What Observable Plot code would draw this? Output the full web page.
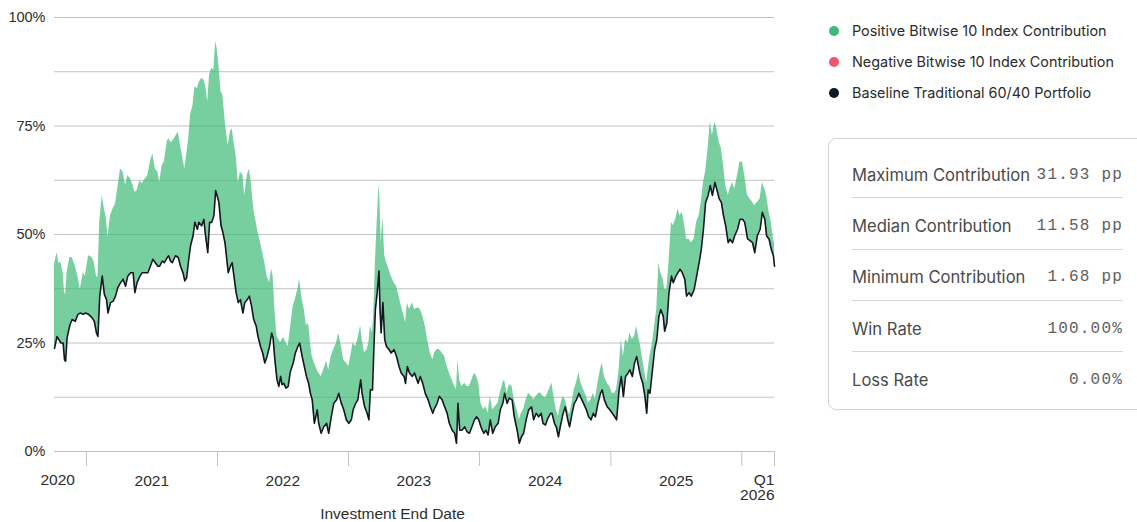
<!DOCTYPE html>
<html>
<head>
<meta charset="utf-8">
<script src="https://cdn.jsdelivr.net/npm/d3@7"></script>
<script src="https://cdn.jsdelivr.net/npm/@observablehq/plot@0.6"></script>
<style>
  html, body { margin: 0; padding: 0; background: #fff; overflow: hidden; }
  body { width: 1137px; height: 522px; position: relative; font-family: Inter, "Noto Sans", sans-serif; }
  #chart { position: absolute; left: 0; top: 0; width: 790px; height: 522px; }
  #side { position: absolute; left: 828px; top: 0; width: 330px; height: 522px; }
  .legend { position: absolute; top: 15px; left: 0; }
  .legend .item { height: 31px; display: flex; align-items: center; font-size: 14.4px; color: #2b2b2b; white-space: nowrap; }
  .legend .dot { width: 10px; height: 10px; border-radius: 50%; margin-left: 1px; margin-right: 13px; flex: none; }
  .stats { position: absolute; top: 138px; left: 0; width: 318px; height: 272px; box-sizing: border-box;
           border: 1px solid #d2d2d2; border-radius: 8px; padding: 8px 22px 7px 23px; }
  .stats .row { height: 51.3px; box-sizing: border-box; padding-top: 5px; display: flex; align-items: center;
                justify-content: space-between; border-bottom: 1px solid #d6d6d6; white-space: nowrap; }
  .stats .row:last-child { border-bottom: none; }
  .stats .name { font-size: 16.6px; color: #4a4a4a; }
  .stats .value { font-family: "Liberation Mono", "DejaVu Sans Mono", monospace; font-size: 16px; letter-spacing: 1.2px; color: #5e5e5e; }
</style>
</head>
<body>
<div id="chart"></div>
<div id="side">
  <div class="legend" id="legend"></div>
  <div class="stats" id="stats"></div>
</div>
<script>
// Investment end dates and the two portfolio values (%) at each date
const dates = [
  "2020-10-04","2020-10-11","2020-10-16","2020-10-22","2020-10-28","2020-11-01","2020-11-04","2020-11-08","2020-11-16","2020-11-22",
  "2020-12-01","2020-12-08","2020-12-15","2020-12-23","2020-12-29","2021-01-07","2021-01-17","2021-01-23","2021-01-29","2021-02-02",
  "2021-02-07","2021-02-14","2021-02-20","2021-02-26","2021-03-02","2021-03-09","2021-03-16","2021-03-23","2021-03-29","2021-04-06",
  "2021-04-13","2021-04-20","2021-04-26","2021-05-04","2021-05-11","2021-05-16","2021-05-22","2021-05-30","2021-06-05","2021-06-14",
  "2021-06-21","2021-06-28","2021-07-05","2021-07-12","2021-07-19","2021-07-24","2021-07-31","2021-08-06","2021-08-14","2021-08-18",
  "2021-08-23","2021-08-28","2021-09-06","2021-09-14","2021-09-20","2021-09-27","2021-10-02","2021-10-07","2021-10-13","2021-10-18",
  "2021-10-25","2021-10-30","2021-11-06","2021-11-10","2021-11-18","2021-11-24","2021-11-29","2021-12-05","2021-12-10","2021-12-16",
  "2021-12-22","2021-12-27","2021-12-31","2022-01-05","2022-01-11","2022-01-16","2022-01-22","2022-01-26","2022-01-31","2022-02-06",
  "2022-02-11","2022-02-16","2022-02-22","2022-02-28","2022-03-06","2022-03-13","2022-03-18","2022-03-25","2022-03-31","2022-04-06",
  "2022-04-12","2022-04-19","2022-04-24","2022-05-01","2022-05-07","2022-05-13","2022-05-19","2022-05-26","2022-06-01","2022-06-05",
  "2022-06-10","2022-06-16","2022-06-21","2022-06-26","2022-06-30","2022-07-05","2022-07-11","2022-07-17","2022-07-23","2022-07-31",
  "2022-08-06","2022-08-13","2022-08-18","2022-08-25","2022-08-31","2022-09-06","2022-09-12","2022-09-17","2022-09-22","2022-09-28",
  "2022-10-06","2022-10-10","2022-10-17","2022-10-24","2022-11-01","2022-11-07","2022-11-14","2022-11-21","2022-11-29","2022-12-05",
  "2022-12-12","2022-12-19","2022-12-26","2023-01-02","2023-01-09","2023-01-14","2023-01-21","2023-01-27","2023-02-04","2023-02-08",
  "2023-02-15","2023-02-22","2023-02-27","2023-03-03","2023-03-09","2023-03-13","2023-03-17","2023-03-22","2023-03-27","2023-03-30",
  "2023-04-02","2023-04-07","2023-04-12","2023-04-17","2023-04-24","2023-04-30","2023-05-08","2023-05-15","2023-05-22","2023-05-28",
  "2023-06-05","2023-06-09","2023-06-14","2023-06-20","2023-06-28","2023-07-04","2023-07-14","2023-07-20","2023-07-27","2023-08-03",
  "2023-08-11","2023-08-17","2023-08-24","2023-08-29","2023-09-05","2023-09-11","2023-09-19","2023-09-26","2023-10-03","2023-10-09",
  "2023-10-17","2023-10-24","2023-10-29","2023-11-02","2023-11-07","2023-11-13","2023-11-21","2023-11-27","2023-12-04","2023-12-11",
  "2023-12-18","2023-12-24","2023-12-30","2024-01-05","2024-01-13","2024-01-19","2024-01-25","2024-01-31","2024-02-07","2024-02-14",
  "2024-02-22","2024-02-28","2024-03-06","2024-03-11","2024-03-18","2024-03-24","2024-04-01","2024-04-07","2024-04-15","2024-04-21",
  "2024-04-27","2024-05-03","2024-05-10","2024-05-17","2024-05-25","2024-05-31","2024-06-07","2024-06-14","2024-06-21","2024-06-26",
  "2024-07-03","2024-07-09","2024-07-17","2024-07-21","2024-07-28","2024-08-02","2024-08-08","2024-08-13","2024-08-21","2024-08-27",
  "2024-09-03","2024-09-08","2024-09-15","2024-09-21","2024-09-27","2024-10-04","2024-10-10","2024-10-17","2024-10-25","2024-10-31",
  "2024-11-07","2024-11-13","2024-11-19","2024-11-26","2024-12-03","2024-12-08","2024-12-14","2024-12-22","2024-12-29","2025-01-05",
  "2025-01-12","2025-01-17","2025-01-24","2025-01-30","2025-02-05","2025-02-11","2025-02-18","2025-02-23","2025-03-02","2025-03-08",
  "2025-03-14","2025-03-21","2025-03-25","2025-03-31","2025-04-06","2025-04-11","2025-04-15","2025-04-20","2025-04-27","2025-05-03",
  "2025-05-09","2025-05-15","2025-05-20","2025-05-27","2025-05-31","2025-06-06","2025-06-12","2025-06-19","2025-06-24","2025-07-01",
  "2025-07-07","2025-07-13","2025-07-19","2025-07-26","2025-07-31","2025-08-07","2025-08-13","2025-08-21","2025-08-28","2025-09-04",
  "2025-09-10","2025-09-16","2025-09-22","2025-09-29","2025-10-05","2025-10-11","2025-10-18","2025-10-23","2025-10-30","2025-11-05",
  "2025-11-11","2025-11-17","2025-11-24","2025-11-29","2025-12-06","2025-12-12","2025-12-20","2025-12-27","2026-01-03","2026-01-09",
  "2026-01-17","2026-01-24","2026-01-31","2026-02-06","2026-02-13","2026-02-21","2026-02-27","2026-03-06","2026-03-11","2026-03-18",
  "2026-03-24","2026-03-30","2026-04-02"
];

// Baseline traditional 60/40 portfolio (%)
const baseline = [
  23.8,26.5,25.8,25.0,25.0,21.1,20.8,26.2,29.2,30.4,
  30.0,31.6,31.9,31.6,31.9,31.6,30.8,30.0,27.3,26.5,
  35.8,40.4,36.2,35.0,31.9,34.3,34.6,35.8,37.7,38.9,
  39.7,38.1,40.4,41.2,41.2,36.6,38.9,40.4,41.2,41.2,
  41.2,42.7,44.3,43.5,42.7,42.7,43.9,43.5,44.7,45.1,
  43.9,43.5,45.1,44.7,42.7,41.2,39.3,40.0,44.3,47.4,
  49.7,52.8,51.2,52.8,52.0,53.5,49.7,45.8,52.8,52.8,
  54.3,60.1,59.0,57.4,52.0,50.5,48.1,45.1,41.2,42.7,
  43.5,40.4,36.6,34.3,35.0,31.9,34.3,35.0,35.8,33.5,
  30.4,28.9,26.5,24.2,22.7,20.4,21.9,24.2,27.3,26.2,
  21.1,16.5,15.0,17.3,15.4,15.7,14.6,15.0,18.4,20.4,
  22.7,24.2,25.0,21.9,19.6,17.3,15.7,13.4,11.9,6.5,
  9.6,6.5,4.2,5.7,6.5,4.2,8.0,11.1,11.9,13.4,
  11.1,9.6,7.3,6.5,7.3,9.6,11.1,11.9,16.5,13.4,
  10.3,8.8,7.3,14.2,14.2,24.2,32.7,36.6,41.6,32.7,
  27.3,34.3,25.8,24.2,23.5,22.7,23.5,21.9,19.6,18.1,
  17.3,15.7,19.6,18.1,17.3,18.1,15.7,17.3,15.7,13.4,
  11.9,10.3,8.8,10.0,11.1,12.7,11.9,10.3,8.8,6.5,
  4.9,4.2,1.9,11.1,4.9,4.9,5.7,4.6,4.2,5.7,
  7.3,8.0,7.3,5.7,4.2,4.9,3.8,7.3,4.2,5.7,
  6.5,9.6,11.1,13.4,11.1,12.3,11.9,8.0,4.9,1.9,
  3.4,4.2,7.3,9.6,10.3,7.3,8.8,8.0,8.8,6.5,
  6.1,7.6,8.8,8.8,6.5,5.7,3.4,5.7,8.8,10.3,
  7.3,5.7,8.8,11.1,11.9,13.4,12.3,11.1,9.6,8.0,
  7.3,8.8,8.0,11.1,13.4,14.2,11.9,10.3,9.6,8.8,
  8.0,7.3,14.2,17.3,12.7,17.3,18.1,18.8,17.3,20.4,
  21.9,18.8,17.3,15.7,12.7,8.8,14.2,13.4,18.8,23.5,
  25.8,31.2,32.7,31.2,27.7,29.6,36.6,40.4,38.9,40.4,
  41.2,42.0,41.2,39.7,35.8,36.6,35.8,37.3,40.4,43.5,
  46.6,51.2,57.4,59.0,61.3,59.0,62.0,60.5,58.2,57.4,
  54.3,52.0,48.1,48.9,48.1,49.7,51.2,53.5,53.5,52.8,
  49.0,48.6,48.1,45.8,49.7,51.2,55.1,53.5,49.7,48.9,
  46.6,45.1,42.7
];

// Same portfolio with the Bitwise 10 Index sleeve added (%)
const withBitwise = [
  43.1,45.8,43.5,43.5,41.2,36.6,36.2,41.2,44.7,44.7,
  42.7,40.4,37.3,41.2,40.4,45.1,44.7,43.5,40.4,40.0,
  52.8,59.0,55.9,53.5,49.3,54.3,55.9,57.0,60.5,65.1,
  64.4,61.3,63.6,62.8,61.3,59.7,60.1,62.4,61.7,62.8,
  63.6,66.7,68.6,65.1,64.4,62.0,65.9,66.7,71.3,72.1,
  71.3,71.3,72.5,73.6,70.5,67.4,65.1,68.2,72.1,77.5,
  79.8,84.0,83.6,84.8,86.0,85.6,84.4,80.6,86.7,88.3,
  87.9,94.4,92.9,89.0,82.9,82.1,76.7,73.6,70.5,73.6,
  74.4,71.3,68.2,62.0,64.4,63.6,59.0,63.6,65.1,61.3,
  55.9,52.8,50.5,48.1,45.8,43.5,40.4,38.9,42.0,40.4,
  32.7,26.5,25.8,25.0,25.8,26.2,25.0,24.2,28.1,33.5,
  35.0,37.3,39.7,35.0,32.7,28.9,29.6,25.0,21.9,20.4,
  18.8,18.1,17.3,18.8,20.8,18.8,21.9,23.5,25.0,27.3,
  24.2,21.1,20.4,19.6,22.7,25.0,24.2,25.8,28.9,25.8,
  22.7,23.5,25.0,28.9,27.3,32.7,43.5,52.8,61.7,57.4,
  48.1,53.9,45.1,43.5,42.0,40.4,38.9,38.1,35.8,33.5,
  31.2,29.6,34.3,32.7,34.3,32.7,33.1,32.7,31.2,28.9,
  25.0,22.7,21.1,22.7,23.5,23.5,22.7,21.9,19.6,18.1,
  16.5,15.0,14.2,21.1,16.5,15.0,15.7,15.0,15.0,16.5,
  18.1,17.3,15.7,11.1,9.6,10.3,8.8,12.7,9.6,10.3,
  11.1,13.4,15.7,16.5,13.4,15.4,15.0,11.9,9.6,7.3,
  8.8,9.6,11.9,13.4,12.7,11.9,12.7,13.4,13.4,12.7,
  12.3,13.4,15.0,15.7,11.9,9.6,8.0,10.3,12.7,12.0,
  9.6,8.4,11.1,14.2,15.7,18.1,15.7,14.2,12.7,11.1,
  11.9,13.4,11.9,15.7,18.8,20.4,17.3,15.7,15.0,13.4,
  13.4,14.2,18.8,25.8,21.9,25.8,25.0,27.3,25.8,26.5,
  28.9,25.8,24.2,21.1,18.1,15.7,18.8,21.9,25.0,28.9,
  32.7,43.5,41.2,39.7,37.3,37.3,43.5,52.8,52.0,53.5,
  55.9,54.3,55.1,52.0,48.9,48.9,48.1,48.9,52.8,54.3,
  57.4,62.0,64.4,69.8,75.9,72.8,75.9,74.4,71.3,69.8,
  65.9,61.3,59.0,60.5,62.0,60.5,63.6,66.7,66.7,63.6,
  59.0,58.2,57.4,56.6,57.4,58.2,62.0,60.5,59.0,55.1,
  52.8,48.9,48.1
];

// Axis ticks
const yLabelTicks = [0, 25, 50, 75, 100];
const yGridTicks = [0, 12.5, 25, 37.5, 50, 62.5, 75, 87.5, 100];
const yearStarts = ["2021-01-01", "2022-01-01", "2023-01-01", "2024-01-01", "2025-01-01", "2026-01-01"];
const yearLabels = [
  { date: "2021-07-02", label: "2021" },
  { date: "2022-07-02", label: "2022" },
  { date: "2023-07-02", label: "2023" },
  { date: "2024-07-02", label: "2024" },
  { date: "2025-07-02", label: "2025" }
];
const firstLabel = "2020";
const lastLabel = "Q1\n2026";
const xTitle = "Investment End Date";

// Legend and summary panel
const legendItems = [
  { label: "Positive Bitwise 10 Index Contribution", color: "#3dbb76" },
  { label: "Negative Bitwise 10 Index Contribution", color: "#f0566e" },
  { label: "Baseline Traditional 60/40 Portfolio", color: "#111820" }
];
const statNames = ["Maximum Contribution", "Median Contribution", "Minimum Contribution", "Win Rate", "Loss Rate"];
const statValues = ["31.93 pp", "11.58 pp", "1.68 pp", "100.00%", "0.00%"];

const parse = d3.utcParse("%Y-%m-%d");
const rows = dates.map((d, i) => ({ date: parse(d), baseline: baseline[i], blended: withBitwise[i] }));
const start = rows[0].date;
const end = rows[rows.length - 1].date;
const axisFont = "'Liberation Sans', Arial, sans-serif";

const chart = Plot.plot({
  width: 790,
  height: 522,
  marginLeft: 54,
  marginRight: 16,
  marginTop: 17,
  marginBottom: 71,
  style: { fontFamily: axisFont, fontSize: "15.5px", color: "#2e2e2e", background: "#fff" },
  x: { type: "utc", domain: [start, end] },
  y: { domain: [0, 100] },
  marks: [
    Plot.gridY(yGridTicks, { stroke: "#c2c2c2", strokeOpacity: 1 }),
    Plot.axisY(yLabelTicks, { tickSize: 0, tickPadding: 9, fontSize: 14.5, tickFormat: (d) => d + "%", label: null }),
    Plot.axisX(yearStarts.map(parse).concat([end]), { tickSize: 15, tickFormat: () => "", stroke: "#c2c2c2", label: null }),
    Plot.axisX(yearLabels.map((d) => parse(d.date)), {
      tickSize: 0, tickPadding: 23,
      tickFormat: (d) => yearLabels.find((l) => +parse(l.date) === +d).label,
      label: null
    }),
    Plot.text([start], { x: (d) => d, text: () => firstLabel, frameAnchor: "bottom", lineAnchor: "middle", textAnchor: "start", dx: -14, dy: 29 }),
    Plot.text([end], { x: (d) => d, text: () => lastLabel, frameAnchor: "bottom", lineAnchor: "middle", textAnchor: "end", lineHeight: 1, dy: 36 }),
    Plot.text([xTitle], { frameAnchor: "bottom", lineAnchor: "middle", dy: 63, dx: -22 }),
    Plot.areaY(rows, { x: "date", y1: "baseline", y2: "blended", fill: "#3dbb76", fillOpacity: 0.7, curve: "linear" }),
    Plot.lineY(rows, { x: "date", y: "baseline", stroke: "#111820", strokeWidth: 1.6 })
  ]
});
document.getElementById("chart").append(chart);

// Legend
const legend = d3.select("#legend");
legendItems.forEach((it) => {
  const row = legend.append("div").attr("class", "item");
  row.append("span").attr("class", "dot").style("background", it.color);
  row.append("span").text(it.label);
});

// Summary statistics
const stats = d3.select("#stats");
statNames.forEach((name, i) => {
  const row = stats.append("div").attr("class", "row");
  row.append("span").attr("class", "name").text(name);
  row.append("span").attr("class", "value").text(statValues[i]);
});
</script>
</body>
</html>
